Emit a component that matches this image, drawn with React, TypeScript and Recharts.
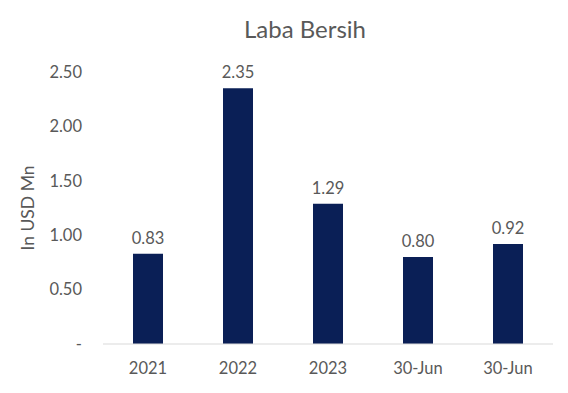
import { BarChart, Bar, XAxis, YAxis, LabelList } from 'recharts';

const categories = ['2021', '2022', '2023', '30-Jun', '30-Jun'];
const netProfit = [0.83, 2.35, 1.29, 0.8, 0.92];
const yTicks = [0, 0.5, 1, 1.5, 2, 2.5];

const chartData = categories.map((label, i) => ({
  key: i,
  label,
  value: netProfit[i],
}));

const textColor = '#595959';
const font = 'Lato, "Open Sans", sans-serif';

export default function App() {
  return (
    <div style={{ position: 'absolute', left: 0, top: 0, width: 568, height: 393, background: '#fff', fontFamily: font }}>
      <div
        style={{
          position: 'absolute',
          top: 14,
          left: 0,
          width: 568,
          paddingLeft: 42,
          boxSizing: 'border-box',
          textAlign: 'center',
          fontSize: 24,
          color: textColor,
        }}
      >
        Laba Bersih
      </div>
      <BarChart
        width={568}
        height={393}
        data={chartData}
        margin={{ top: 72, right: 15, bottom: 19, left: 0 }}
      >
        <XAxis
          dataKey="key"
          height={30}
          tickFormatter={(i) => categories[i]}
          axisLine={{ stroke: '#D9D9D9', strokeWidth: 1 }}
          tickLine={false}
          tickSize={0}
          tickMargin={18}
          tick={{ fill: textColor, fontSize: 16.5, fontFamily: font }}
        />
        <YAxis
          width={103}
          domain={[0, 2.5]}
          ticks={yTicks}
          interval={0}
          tickFormatter={(v) => (v === 0 ? '-' : v.toFixed(2))}
          axisLine={false}
          tickLine={false}
          tickSize={0}
          tickMargin={21}
          tick={{ fill: textColor, fontSize: 16.5, fontFamily: font }}
          label={{
            value: 'In USD Mn',
            angle: -90,
            position: 'insideLeft',
            offset: 28,
            style: { fill: textColor, fontSize: 17.5, fontFamily: font, textAnchor: 'middle' },
          }}
        />
        <Bar dataKey="value" fill="#0A1F56" barSize={30} isAnimationActive={false}>
          <LabelList
            dataKey="value"
            position="top"
            offset={10}
            formatter={(v: number) => v.toFixed(2)}
            style={{ fill: textColor, fontSize: 16.5, fontFamily: font }}
          />
        </Bar>
      </BarChart>
    </div>
  );
}
